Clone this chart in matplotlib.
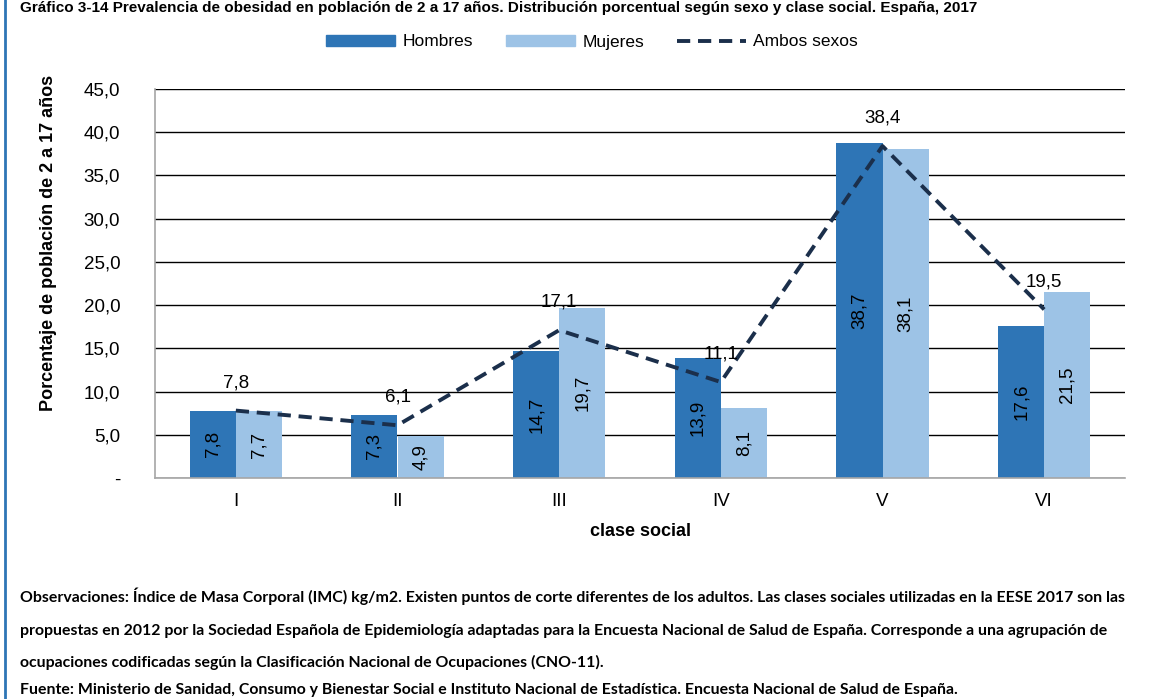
import matplotlib
matplotlib.use("Agg")
import matplotlib.pyplot as plt
import numpy as np
from matplotlib.patches import Patch
from matplotlib.lines import Line2D

plt.rcParams['font.family'] = ['Liberation Sans', 'DejaVu Sans']

categories = ["I", "II", "III", "IV", "V", "VI"]
hombres = [7.8, 7.3, 14.7, 13.9, 38.7, 17.6]
mujeres = [7.7, 4.9, 19.7, 8.1, 38.1, 21.5]
ambos = [7.8, 6.1, 17.1, 11.1, 38.4, 19.5]
yticks = [0, 5, 10, 15, 20, 25, 30, 35, 40, 45]
ytick_labels = ["-", "5,0", "10,0", "15,0", "20,0", "25,0", "30,0", "35,0", "40,0", "45,0"]

title = ("Gráfico 3-14 Prevalencia de obesidad en población de 2 a 17 años. "
         "Distribución porcentual según sexo y clase social. España, 2017")
notes = [
    "Observaciones: Índice de Masa Corporal (IMC) kg/m2. Existen puntos de corte diferentes de los adultos. Las clases sociales utilizadas en la EESE 2017 son las",
    "propuestas en 2012 por la Sociedad Española de Epidemiología adaptadas para la Encuesta Nacional de Salud de España. Corresponde a una agrupación de",
    "ocupaciones codificadas según la Clasificación Nacional de Ocupaciones (CNO-11).",
    "Fuente: Ministerio de Sanidad, Consumo y Bienestar Social e Instituto Nacional de Estadística. Encuesta Nacional de Salud de España.",
]

c_h = "#2E75B6"
c_m = "#9DC3E6"
c_a = "#1B2F4B"

W, H = 1156, 699
fig = plt.figure(figsize=(W / 100, H / 100), dpi=100)
ax = fig.add_axes([155 / W, 1 - 478 / H, (1125 - 155) / W, (478 - 89) / H])

x = np.arange(len(categories))
bw = 0.285
ax.bar(x - bw / 2, hombres, bw, color=c_h, zorder=2)
ax.bar(x + bw / 2, mujeres, bw, color=c_m, zorder=2)
dash = (0, (3.4, 2.0))
ax.plot(x, ambos, color=c_a, lw=2.8, ls=dash, zorder=3)

def fmt(v):
    return f"{v:.1f}".replace(".", ",")

fs = 13.5
for xi, v in zip(x - bw / 2, hombres):
    ax.text(xi, v / 2, fmt(v), rotation=90, ha="center", va="center", fontsize=fs, color="black", zorder=4)
for xi, v in zip(x + bw / 2, mujeres):
    ax.text(xi, v / 2, fmt(v), rotation=90, ha="center", va="center", fontsize=fs, color="black", zorder=4)
for xi, v in zip(x, ambos):
    ax.annotate(fmt(v), (xi, v), xytext=(0, 20), textcoords="offset points",
                ha="center", va="center", fontsize=fs, zorder=4)

ax.set_xlim(-0.5, len(categories) - 0.5)
ax.set_ylim(0, 45)
ax.set_yticks(yticks)
ax.set_yticklabels(ytick_labels, fontsize=fs)
ax.set_xticks(x)
ax.set_xticklabels(categories, fontsize=fs)
ax.tick_params(axis="y", length=0, pad=25)
ax.tick_params(axis="x", length=0, pad=11)
ax.yaxis.grid(True, color="black", lw=1, zorder=1)
ax.set_axisbelow(True)
for s in ["top", "right"]:
    ax.spines[s].set_visible(False)
for s in ["left", "bottom"]:
    ax.spines[s].set_color("#A6A6A6")
    ax.spines[s].set_linewidth(1.2)

ax.set_xlabel("clase social", fontsize=13, fontweight="bold", labelpad=9)
ax.set_ylabel("Porcentaje de población de 2 a 17 años", fontsize=13, fontweight="bold")
ax.yaxis.set_label_coords((57 - 155) / (1125 - 155), (478 - 243) / (478 - 89))

handles = [Patch(color=c_h), Patch(color=c_m),
           Line2D([], [], color=c_a, lw=2.8, ls=dash)]
fig.legend(handles, ["Hombres", "Mujeres", "Ambos sexos"], loc="center",
           bbox_to_anchor=(592 / W, 1 - 42 / H), ncol=3, frameon=False,
           fontsize=12.5, handlelength=4.0, handleheight=0.55,
           handletextpad=0.4, columnspacing=1.9)

fig.text(20 / W, 1 - 1 / H, title, fontsize=11, fontweight="bold", ha="left", va="top")

note_y = [596, 631, 662, 690]
for t, yy in zip(notes, note_y):
    fig.text(20 / W, 1 - yy / H, t, fontsize=11.4, fontweight="bold", ha="left", va="center",
             family=["Lato", "DejaVu Sans"])

fig.add_artist(Line2D([5 / W, 5 / W], [0, 1], color=c_h, lw=2, transform=fig.transFigure))

fig.savefig("out.png", dpi=100)
